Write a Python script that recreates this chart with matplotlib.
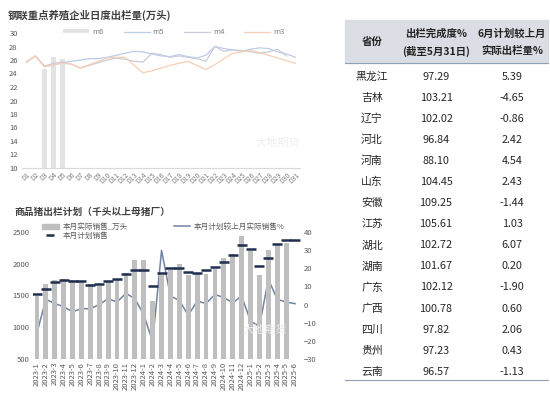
import numpy as np
import matplotlib.pyplot as plt
from matplotlib.patches import Rectangle, Patch
from matplotlib.lines import Line2D

plt.rcParams['font.family'] = ['Noto Sans CJK SC', 'DejaVu Sans']

# ---- top chart: daily slaughter (万头) ----
days = ['D1', 'D2', 'D3', 'D4', 'D5', 'D6', 'D7', 'D8', 'D9', 'D10', 'D11',
        'D12', 'D13', 'D14', 'D15', 'D16', 'D17', 'D18', 'D19', 'D20', 'D21',
        'D22', 'D23', 'D24', 'D25', 'D26', 'D27', 'D28', 'D29', 'D30', 'D31']
m6_days = ['D3', 'D4', 'D5']
m6 = [24.6, 26.4, 26.1]
m5 = [25.7, 26.6, 25.0, 25.3, 25.6, 25.8, 26.0, 26.2, 26.2, 26.4, 26.7,
      27.0, 27.3, 27.2, 26.9, 26.6, 26.5, 26.8, 26.5, 26.3, 26.7,
      28.0, 27.7, 27.5, 27.3, 27.6, 27.8, 27.7, 27.2, 26.9, 26.4]
m4 = [25.7, 26.6, 25.1, 25.5, 25.7, 25.4, 24.8, 25.2, 25.6, 26.0, 26.3,
      26.1, 25.8, 25.7, 27.0, 26.8, 26.4, 26.6, 26.4, 26.2, 25.8,
      28.0, 27.3, 27.5, 27.4, 27.2, 27.0, 27.2, 27.6, 26.6]
m3 = [25.7, 26.6, 25.0, 25.3, 25.5, 25.4, 24.8, 25.3, 25.8, 26.3, 26.4,
      26.4, 25.2, 24.1, 24.4, 24.8, 25.2, 25.5, 25.8, 25.2, 24.6,
      25.3, 26.2, 27.0, 27.2, 27.4, 27.1, 26.7, 26.3, 25.9, 25.5]

# ---- bottom chart: monthly plan of sows farms ----
months = ['2023-1', '2023-2', '2023-3', '2023-4', '2023-5', '2023-6',
          '2023-7', '2023-8', '2023-9', '2023-10', '2023-11', '2023-12',
          '2024-1', '2024-2', '2024-3', '2024-4', '2024-5', '2024-6',
          '2024-7', '2024-8', '2024-9', '2024-10', '2024-11', '2024-12',
          '2025-1', '2025-2', '2025-3', '2025-4', '2025-5', '2025-6']
actual = [1500, 1684, 1747, 1763, 1737, 1711, 1684, 1647, 1711, 1737,
          1853, 2053, 2053, 1421, 1816, 1895, 2000, 1816, 1842, 1842,
          1921, 2089, 2150, 2432, 2200, 1830, 2221, 2310, 2330, np.nan]
plan = [1526, 1605, 1711, 1747, 1726, 1721, 1668, 1684, 1721, 1763,
        1842, 1895, 1895, 1647, 1853, 1932, 1937, 1868, 1858, 1895,
        1947, 2026, 2142, 2289, 2237, 1958, 2095, 2316, 2368, 2368]
pct = [-15.7, 2.9, 0.6, -1.2, -4.0, -2.2, -2.4, 0.1, 3.2, 1.4,
       6.2, 3.2, -5.5, -20.4, 29.8, 4.7, 2.3, -5.9, 1.9, 0.6,
       5.6, 3.8, 1.0, 4.7, -9.2, -12.0, 14.0, 2.9, 1.4, 0.5]

# ---- table ----
provinces = ['黑龙江', '吉林', '辽宁', '河北', '河南', '山东', '安徽', '江苏',
             '湖北', '湖南', '广东', '广西', '四川', '贵州', '云南']
completion = ['97.29', '103.21', '102.02', '96.84', '88.10', '104.45', '109.25',
              '105.61', '102.72', '101.67', '102.12', '100.78', '97.82',
              '97.23', '96.57']
june_vs_may = ['5.39', '-4.65', '-0.86', '2.42', '4.54', '2.43', '-1.44', '1.03',
               '6.07', '0.20', '-1.90', '0.60', '2.06', '0.43', '-1.13']

W, H = 550, 394
fig = plt.figure(figsize=(W / 100, H / 100), dpi=100)
fig.patch.set_facecolor('white')


def fx(px):
    return px / W


def fy(py):
    return 1 - py / H


tick_col = '#595959'

# top chart
ax1 = fig.add_axes([fx(22), fy(168), fx(300) - fx(22), fy(33) - fy(168)])
x_days = np.arange(len(days))
b6 = ax1.bar([days.index(d) for d in m6_days], np.array(m6) - 10, bottom=10,
             width=0.6, color='#E3E3E3')
l5, = ax1.plot(x_days[:len(m5)], m5, color='#BCCDEA', lw=0.9)
l4, = ax1.plot(x_days[:len(m4)], m4, color='#CACBDB', lw=0.9)
l3, = ax1.plot(x_days[:len(m3)], m3, color='#F8CFB4', lw=0.9)
ax1.set_xlim(-0.5, len(days) - 0.5)
ax1.set_ylim(10, 30)
ax1.set_yticks(range(10, 31, 2))
ax1.set_xticks(x_days)
ax1.set_xticklabels(days, rotation=45, ha='right', rotation_mode='anchor')
ax1.tick_params(axis='y', length=0, labelsize=5.5, colors=tick_col, pad=3)
ax1.tick_params(axis='x', length=0, labelsize=5, colors='#7F7F7F', pad=2)
for s in ['top', 'right', 'left']:
    ax1.spines[s].set_visible(False)
ax1.spines['bottom'].set_color('#D9D9D9')
ax1.legend([b6, l5, l4, l3], ['m6', 'm5', 'm4', 'm3'], loc='center',
           bbox_to_anchor=(fx(174), fy(32)), bbox_transform=fig.transFigure,
           ncol=4, frameon=False, fontsize=5.5, handlelength=3.4,
           columnspacing=2.6, labelcolor='#7F7F7F', handleheight=0.5,
           handletextpad=0.4)
fig.text(fx(8), fy(15), '钢联重点养殖企业日度出栏量(万头)', fontsize=7.5,
         fontweight='bold', color='#404040', va='center')
fig.text(fx(278), fy(143), '大地期货', fontsize=8, color='#EEEEEE',
         ha='center', va='center')

# bottom chart
ax2 = fig.add_axes([fx(32.5), fy(359), fx(299.5) - fx(32.5), fy(232) - fy(359)])
x_m = np.arange(len(months))
ax2.bar(x_m, np.array(actual) - 500, bottom=500, width=0.55, color='#BFBFBF',
        zorder=1)
ax2.plot(x_m, plan, ls='none', marker='_', ms=6.5, mew=1.8, color='#1F2D4F',
         zorder=3)
ax2.set_xlim(-0.5, len(months) - 0.5)
ax2.set_ylim(500, 2500)
ax2.set_yticks(range(500, 2501, 500))
ax2.set_xticks(x_m)
ax2.set_xticklabels(months, rotation=90)
ax2.tick_params(axis='both', length=0, labelsize=5.5, colors=tick_col, pad=2)
for s in ax2.spines.values():
    s.set_visible(False)

ax3 = ax2.twinx()
ax3.plot(x_m, pct, color='#7084A3', lw=1.1, zorder=2)
ax3.set_ylim(-30, 40)
ax3.set_yticks(range(-30, 41, 10))
ax3.tick_params(axis='y', length=0, labelsize=5.5, colors=tick_col, pad=3)
for s in ax3.spines.values():
    s.set_visible(False)
ax2.set_zorder(ax3.get_zorder() + 1)
ax2.patch.set_visible(False)

handles = [Patch(color='#BFBFBF'),
           Line2D([], [], ls='none', marker='_', ms=6, mew=1.8, color='#1F2D4F'),
           Line2D([], [], color='#7084A3', lw=1.1)]
labels = ['本月实际销售_万头', '本月计划销售', '本月计划较上月实际销售%']
ax2.legend(handles, labels, loc='upper left', bbox_to_anchor=(fx(38), fy(219)),
           bbox_transform=fig.transFigure, ncol=2, frameon=False,
           fontsize=5.5, handlelength=2.2, handleheight=0.6, labelspacing=0.15,
           columnspacing=6.0, labelcolor=tick_col, borderpad=0, handletextpad=0.5)
fig.text(fx(14), fy(212), '商品猪出栏计划（千头以上母猪厂）', fontsize=7,
         fontweight='bold', color='#404040', va='center')
fig.text(fx(265), fy(330), '大地期货', fontsize=8, color='#EEEEEE',
         ha='center', va='center')

# table
tx0, tx1 = 345, 548
fig.patches.append(Rectangle((fx(tx0), fy(63)), fx(tx1) - fx(tx0), fy(20) - fy(63),
                             transform=fig.transFigure, color='#DADDE3', zorder=0))
fig.add_artist(Line2D([fx(tx0), fx(tx1)], [fy(63), fy(63)], color='#8EA0B8', lw=0.8))
fig.add_artist(Line2D([fx(tx0), fx(tx1)], [fy(380), fy(380)], color='#8EA0B8', lw=0.8))
col_x = [372, 436, 512]
hdr = dict(fontsize=7.5, fontweight='bold', color='#222222', ha='center', va='center')
fig.text(fx(col_x[0]), fy(42), '省份', **hdr)
fig.text(fx(col_x[1]), fy(34), '出栏完成度%', **hdr)
fig.text(fx(col_x[1]), fy(51), '(截至5月31日)', **hdr)
fig.text(fx(col_x[2]), fy(34), '6月计划较上月', **hdr)
fig.text(fx(col_x[2]), fy(51), '实际出栏量%', **hdr)
body = dict(fontsize=7.8, color='#262626', ha='center', va='center')
for i in range(len(provinces)):
    yy = fy(76.5 + i * 21.1)
    fig.text(fx(col_x[0]), yy, provinces[i], **body)
    fig.text(fx(col_x[1]), yy, completion[i], **body)
    fig.text(fx(col_x[2]), yy, june_vs_may[i], **body)

fig.savefig('out.png', dpi=100)
